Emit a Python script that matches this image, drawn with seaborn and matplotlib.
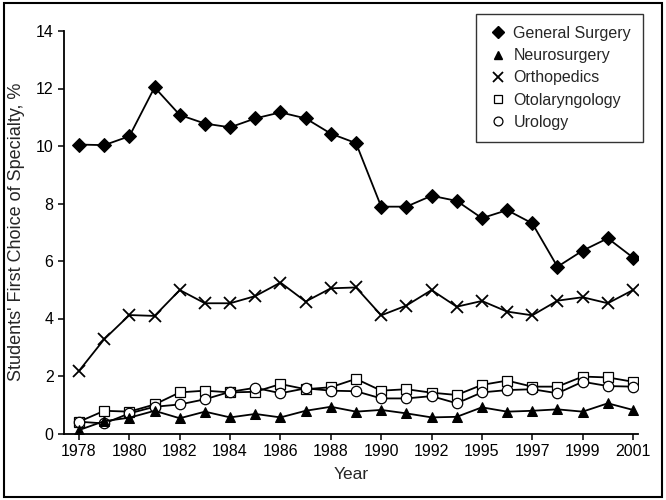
import numpy as np
import pandas as pd
import seaborn as sns
import matplotlib.pyplot as plt
from matplotlib.lines import Line2D
from matplotlib.patches import Rectangle

# survey years (one year between 1993 and 1995 has no data point)
years = [1978, 1979, 1980, 1981, 1982, 1983, 1984, 1985, 1986, 1987, 1988, 1989,
         1990, 1991, 1992, 1993, 1995, 1996, 1997, 1998, 1999, 2000, 2001]
tick_years = [1978, 1980, 1982, 1984, 1986, 1988, 1990, 1992, 1995, 1997, 1999, 2001]

general_surgery = [10.05, 10.03, 10.34, 12.04, 11.08, 10.78, 10.65, 10.96, 11.17, 10.96, 10.43, 10.1,
                   7.89, 7.89, 8.27, 8.09, 7.49, 7.77, 7.31, 5.80, 6.36, 6.79, 6.12]
neurosurgery = [0.12, 0.43, 0.55, 0.79, 0.53, 0.76, 0.56, 0.68, 0.56, 0.79, 0.93, 0.76,
                0.82, 0.70, 0.56, 0.58, 0.91, 0.76, 0.79, 0.84, 0.76, 1.05, 0.82]
orthopedics = [2.18, 3.28, 4.12, 4.09, 4.99, 4.53, 4.53, 4.78, 5.25, 4.59, 5.05, 5.08,
               4.11, 4.45, 4.99, 4.41, 4.61, 4.24, 4.11, 4.62, 4.74, 4.53, 4.99]
otolaryngology = [0.41, 0.79, 0.76, 1.01, 1.43, 1.49, 1.43, 1.45, 1.72, 1.54, 1.61, 1.90,
                  1.49, 1.54, 1.42, 1.34, 1.69, 1.84, 1.63, 1.63, 1.98, 1.95, 1.80]
urology = [0.41, 0.35, 0.70, 0.93, 1.01, 1.19, 1.45, 1.59, 1.40, 1.57, 1.49, 1.47,
           1.22, 1.22, 1.30, 1.05, 1.43, 1.51, 1.54, 1.40, 1.80, 1.65, 1.63]

series = {
    "General Surgery": general_surgery,
    "Neurosurgery": neurosurgery,
    "Orthopedics": orthopedics,
    "Otolaryngology": otolaryngology,
    "Urology": urology,
}

# marker styles per specialty
styles = {
    "General Surgery": dict(marker="D", markersize=7, markerfacecolor="black", markeredgecolor="black"),
    "Neurosurgery": dict(marker="^", markersize=7.5, markerfacecolor="black", markeredgecolor="black"),
    "Orthopedics": dict(marker="x", markersize=8, markeredgewidth=1.3, markeredgecolor="black"),
    "Otolaryngology": dict(marker="s", markersize=7, markerfacecolor="white", markeredgecolor="black", markeredgewidth=0.9),
    "Urology": dict(marker="o", markersize=7.5, markerfacecolor="white", markeredgecolor="black", markeredgewidth=0.9),
}

pos = np.arange(len(years))
df = pd.DataFrame({"pos": pos})
for name, vals in series.items():
    df[name] = vals

sns.set_style("ticks")
plt.rcParams["font.family"] = ["Liberation Sans", "DejaVu Sans"]

fig = plt.figure(figsize=(6.66, 5), dpi=100)
ax = fig.add_axes([0.096, 0.133, 0.862, 0.805])

order = ["Otolaryngology", "Urology", "Neurosurgery", "Orthopedics", "General Surgery"]
for name in order:
    sns.lineplot(data=df, x="pos", y=name, ax=ax, color="black", linewidth=1.3, **styles[name])

ax.set_xlim(-0.6, 22.2)
ax.set_ylim(0, 14)
ax.set_yticks(range(0, 15, 2))
ax.set_xticks([years.index(y) for y in tick_years])
ax.set_xticklabels([str(y) for y in tick_years])
ax.tick_params(labelsize=11.5, length=4, width=1.1, color="black", labelcolor="black")
for side in ["top", "right"]:
    ax.spines[side].set_visible(False)
for side in ["left", "bottom"]:
    ax.spines[side].set_linewidth(1.3)
    ax.spines[side].set_color("black")

ax.set_xlabel("Year", fontsize=12.5, labelpad=6)
ax.set_ylabel("Students' First Choice of Specialty, %", fontsize=13, labelpad=8)

handles = []
for name in series:
    st = dict(styles[name])
    st["markersize"] = st["markersize"] * 0.85
    handles.append(Line2D([], [], linestyle="none", color="black", **st))
leg = ax.legend(handles, list(series.keys()), loc="upper right",
                bbox_to_anchor=(643 / 666, 1 - 14 / 500), bbox_transform=fig.transFigure,
                borderaxespad=0, fontsize=11.5, frameon=True, fancybox=False, handletextpad=0.3,
                borderpad=0.75, labelspacing=0.45, handlelength=1.3)
leg.get_frame().set_edgecolor("black")
leg.get_frame().set_linewidth(1.0)

# outer border around the whole picture
fig.patches.append(Rectangle((0.006, 0.006), 0.988, 0.988, transform=fig.transFigure,
                             fill=False, edgecolor="black", linewidth=1.5))

fig.savefig("out.png", dpi=100)
